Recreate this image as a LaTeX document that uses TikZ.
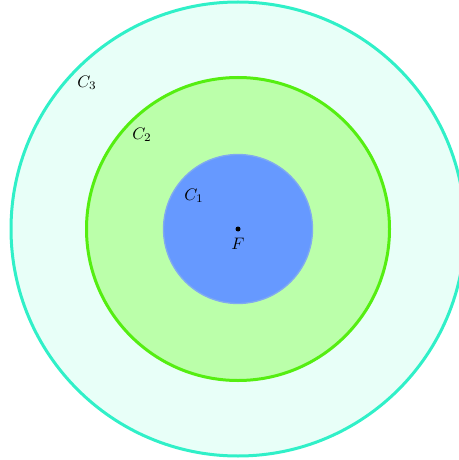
\documentclass[tikz,border=0pt]{standalone}
\begin{document}
\begin{tikzpicture}[x=0.6pt,y=-0.6pt,
  ring/.style={line width=1.8pt}]
\definecolor{outerfill}{HTML}{E8FFF8}
\definecolor{outerline}{HTML}{30F0C8}
\definecolor{midfill}{HTML}{BBFFAA}
\definecolor{midline}{HTML}{55EE11}
\definecolor{innerfill}{HTML}{6699FF}
\definecolor{innerline}{HTML}{80AAF0}
\useasboundingbox (0,0) rectangle (459,460);
\clip (0,0) rectangle (459,460);
\coordinate (F) at (238,229);
\fill[outerfill] (F) circle (227);
\draw[ring,outerline] (F) circle (227);
\fill[midfill] (F) circle (151.5);
\draw[ring,midline] (F) circle (151.5);
\fill[innerfill] (F) circle (74.5);
\draw[line width=0.8pt,innerline] (F) circle (74.5);
\fill[black] (F) circle (2.5);
\node (lF) at (238,244) {$F$};
\node (l1) at (194,196) {$C_1$};
\node (l2) at (142,135) {$C_2$};
\node (l3) at (87,83) {$C_3$};
\end{tikzpicture}
\end{document}
